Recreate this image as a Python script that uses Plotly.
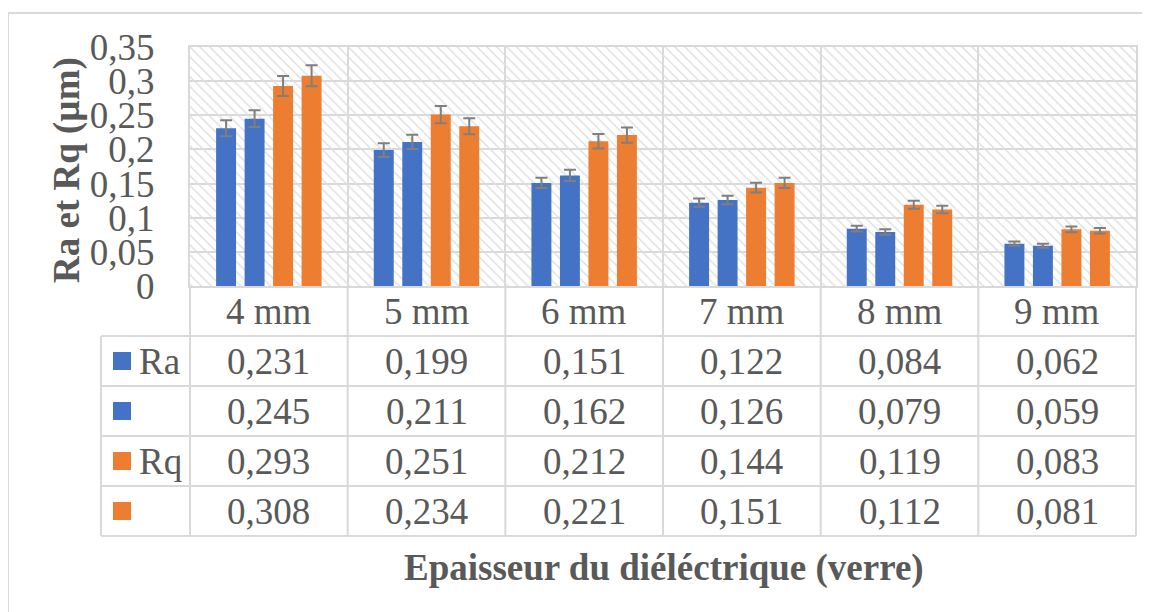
import plotly.graph_objects as go

# data
CATEGORIES = ["4 mm", "5 mm", "6 mm", "7 mm", "8 mm", "9 mm"]
SERIES_NAMES = ["Ra", "", "Rq", ""]
RA_1 = [0.231, 0.199, 0.151, 0.122, 0.084, 0.062]
RA_2 = [0.245, 0.211, 0.162, 0.126, 0.079, 0.059]
RQ_1 = [0.293, 0.251, 0.212, 0.144, 0.119, 0.083]
RQ_2 = [0.308, 0.234, 0.221, 0.151, 0.112, 0.081]
SERIES = [RA_1, RA_2, RQ_1, RQ_2]
COLORS = ["#4472C4", "#4472C4", "#ED7D31", "#ED7D31"]
Y_MAX = 0.35
Y_STEP = 0.05
ERR_PCT = 5

Y_TITLE = "Ra et Rq (µm)"
X_TITLE = "Epaisseur du diéléctrique (verre)"

# page body adds an 8px offset; layout below is in screen pixels
OFF = 8
W, H = 1150, 612
L, R, T, B = 190 - OFF, W - (1136 - OFF), 47 - OFF, H - (286 - OFF)
PW = W - L - R
PH = H - T - B

GRID = "#d9d9d9"
TXT = "#595959"
FONT = "Liberation Serif, Times New Roman, serif"
FS = 37


def px_x(px):
    return (px - OFF - L) / PW


def px_y(py):
    return (H - B - (py - OFF)) / PH


fig = go.Figure()

# hatched plot-area background
fig.add_trace(go.Bar(
    x=[len(CATEGORIES) / 2], y=[Y_MAX], width=[len(CATEGORIES)],
    xaxis="x", yaxis="y",
    marker=dict(color="rgba(0,0,0,0)", line=dict(width=0),
                pattern=dict(shape="\\", fgcolor="#dedede", bgcolor="rgba(0,0,0,0)",
                             size=7, solidity=0.2, fillmode="replace")),
    hoverinfo="skip", showlegend=False,
))

for name, vals, col in zip(SERIES_NAMES, SERIES, COLORS):
    fig.add_trace(go.Bar(
        x=CATEGORIES, y=vals, name=name, xaxis="x2", yaxis="y",
        marker=dict(color=col, line=dict(width=0)),
        error_y=dict(type="percent", value=ERR_PCT, color="#7f7f7f",
                     thickness=2, width=6),
        showlegend=False,
    ))

fig.update_layout(
    width=W, height=H,
    margin=dict(l=L, r=R, t=T, b=B),
    paper_bgcolor="white", plot_bgcolor="white",
    separators=", ",
    barmode="group", bargap=0.277, bargroupgap=0.3,
    font=dict(family=FONT, size=FS, color=TXT),
    xaxis=dict(range=[0, len(CATEGORIES)], dtick=1, showgrid=True, gridcolor=GRID,
               gridwidth=2, showticklabels=False, zeroline=False,
               showline=True, linecolor=GRID, linewidth=2, mirror=True,
               automargin=False),
    xaxis2=dict(overlaying="x", type="category", showgrid=False, showticklabels=False,
                showline=False, zeroline=False, automargin=False),
    yaxis=dict(range=[0, Y_MAX], dtick=Y_STEP, showgrid=True, gridcolor=GRID,
               gridwidth=2, zeroline=False, showline=True, linecolor=GRID,
               linewidth=2, mirror=True, ticks="", ticklabelstandoff=26,
               tickfont=dict(family=FONT, size=FS, color=TXT), automargin=False),
)

shapes = []
annotations = []
line = dict(color=GRID, width=2)


def label(x, y, text, **kw):
    d = dict(x=x, y=y, xref="paper", yref="paper", text=text, showarrow=False,
             xanchor="center", yanchor="middle",
             font=dict(family=FONT, size=FS, color=TXT))
    d.update(kw)
    annotations.append(d)


# outer chart border
shapes.append(dict(type="rect", xref="paper", yref="paper",
                   x0=px_x(8), x1=px_x(1156), y0=px_y(13), y1=px_y(620), line=line))

# data table
n = len(CATEGORIES)
row_h = 50
top = 286
rows_y = [top + k * row_h for k in range(len(SERIES) + 2)]
table_left = 101
bottom = rows_y[-1]

for yy in rows_y[1:]:
    shapes.append(dict(type="line", xref="paper", yref="paper",
                       x0=px_x(table_left), x1=1, y0=px_y(yy), y1=px_y(yy), line=line))
shapes.append(dict(type="line", xref="paper", yref="paper",
                   x0=px_x(table_left), x1=px_x(table_left),
                   y0=px_y(rows_y[1]), y1=px_y(bottom), line=line))
for i in range(n + 1):
    shapes.append(dict(type="line", xref="paper", yref="paper",
                       x0=i / n, x1=i / n, y0=0, y1=px_y(bottom), line=line))

for i, cat in enumerate(CATEGORIES):
    label((i + 0.5) / n, px_y((rows_y[0] + rows_y[1]) / 2), cat)

for r, (name, vals, col) in enumerate(zip(SERIES_NAMES, SERIES, COLORS)):
    yc = (rows_y[r + 1] + rows_y[r + 2]) / 2
    for i, v in enumerate(vals):
        label((i + 0.5) / n, px_y(yc), f"{v:.3f}".replace(".", ","))
    shapes.append(dict(type="rect", xref="paper", yref="paper",
                       x0=px_x(113), x1=px_x(131), y0=px_y(yc - 9), y1=px_y(yc + 9),
                       fillcolor=col, line=dict(width=0)))
    if name:
        label(px_x(137), px_y(yc), name, xanchor="left")

# axis titles
label(px_x(67), px_y(170), Y_TITLE, textangle=-90,
      font=dict(family=FONT, size=37, color=TXT, weight="bold"))
label(px_x(664), px_y(568), X_TITLE,
      font=dict(family=FONT, size=37, color=TXT, weight="bold"))

fig.update_layout(shapes=shapes, annotations=annotations)

fig.write_html("out.html")
